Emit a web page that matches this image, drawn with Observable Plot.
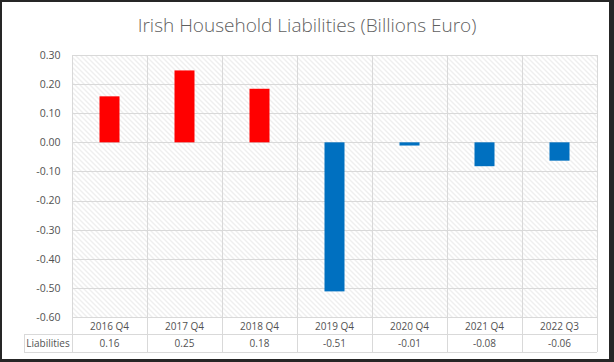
<!DOCTYPE html>
<html><head><meta charset="utf-8">
<script src="https://cdn.jsdelivr.net/npm/d3@7"></script>
<script src="https://cdn.jsdelivr.net/npm/@observablehq/plot@0.6"></script>
<style>
body{margin:0;background:#fff}
#wrap{position:relative;width:614px;height:362px;overflow:hidden;background:#fff}
#frame{position:absolute;left:0;top:0;width:614px;height:362px;box-sizing:border-box;border-style:solid;border-color:#262626;border-width:2px 5px 3px 2px;pointer-events:none}
</style></head><body>
<div id="wrap"><div id="frame"></div></div>
<script>
const title = "Irish Household Liabilities (Billions Euro)";
const seriesName = "Liabilities";
const categories = ["2016 Q4","2017 Q4","2018 Q4","2019 Q4","2020 Q4","2021 Q4","2022 Q3"];
const liabilities = [0.158, 0.247, 0.184, -0.512, -0.011, -0.082, -0.063];
const yTicks = [0.3, 0.2, 0.1, 0, -0.1, -0.2, -0.3, -0.4, -0.5, -0.6];

const W = 614, H = 362;
const FONT = "'Open Sans', sans-serif";
const TEXT = "#525252", GRID = "#d9d9d9";
const fmt = d => Math.abs(d) < 0.005 ? "0.00" : d.toFixed(2);
const data = categories.map((c, i) => ({period: c, value: liabilities[i], color: liabilities[i] >= 0 ? "#FF0000" : "#0070C0"}));

function decorations(index, scales, values, dims) {
  const {x} = scales;
  const left = dims.marginLeft, right = dims.width - dims.marginRight;
  let bw = typeof x.bandwidth === "function" ? x.bandwidth() : x.bandwidth;
  if (!(bw > 0)) bw = (right - left) / categories.length;
  const g = d3.create("svg:g").attr("font-family", FONT);
  const top = dims.marginTop;
  const bottom = dims.height - dims.marginBottom;
  const row1 = bottom + 17.5, row2 = bottom + 35;
  const labelLeft = 24;
  const lines = g.append("g").attr("stroke", GRID).attr("stroke-width", 1).attr("shape-rendering", "crispEdges");
  const edges = categories.map(c => x(c)).concat([x(categories[categories.length - 1]) + bw]);
  edges.forEach(e => lines.append("line").attr("x1", e).attr("x2", e).attr("y1", top).attr("y2", row2));
  lines.append("line").attr("x1", labelLeft).attr("x2", labelLeft).attr("y1", row1).attr("y2", row2);
  lines.append("line").attr("x1", left).attr("x2", right).attr("y1", bottom).attr("y2", bottom);
  lines.append("line").attr("x1", labelLeft).attr("x2", right).attr("y1", row1).attr("y2", row1);
  lines.append("line").attr("x1", labelLeft).attr("x2", right).attr("y1", row2).attr("y2", row2);
  const t = g.append("g").attr("fill", TEXT).attr("font-size", 10).attr("text-anchor", "middle");
  categories.forEach(c => t.append("text").attr("x", x(c) + bw / 2).attr("y", (bottom + row1) / 2 + 0.5).attr("dy", "0.35em").text(c));
  data.forEach(d => t.append("text").attr("x", x(d.period) + bw / 2).attr("y", (row1 + row2) / 2 + 0.5).attr("dy", "0.35em").text(fmt(d.value)));
  t.append("text").attr("x", (labelLeft + left) / 2).attr("y", (row1 + row2) / 2 + 0.5).attr("dy", "0.35em").text(seriesName);
  g.append("text").attr("x", dims.width / 2).attr("y", 32).attr("text-anchor", "middle")
    .attr("fill", "#5f5f5f").attr("font-size", 19).attr("font-weight", 300).text(title);
  return g.node();
}

const chart = Plot.plot({
  width: W, height: H,
  marginLeft: 72, marginRight: 17, marginTop: 55, marginBottom: 45,
  style: {fontFamily: FONT, fontSize: "10.5px", color: TEXT, background: "transparent"},
  x: {type: "band", domain: categories, padding: 0, axis: null},
  y: {domain: [-0.6, 0.3], ticks: yTicks, tickFormat: fmt, tickSize: 0, tickPadding: 12, label: null},
  color: {type: "identity"},
  marks: [
    Plot.frame({fill: "url(#hatch)", stroke: "none"}),
    Plot.ruleY(yTicks, {stroke: GRID, shapeRendering: "crispEdges"}),
    decorations,
    Plot.barY(data, {x: "period", y: "value", fill: "color", insetLeft: 27.5, insetRight: 27.5})
  ]
});
d3.select(chart).insert("defs", ":first-child").html(
  `<pattern id="hatch" patternUnits="userSpaceOnUse" width="5" height="5">
     <rect width="5" height="5" fill="#fff"/>
     <path d="M0,0L5,5M4,-1L6,1M-1,4L1,6" stroke="#dedede" stroke-width="1"/>
   </pattern>`);
document.getElementById("wrap").insertBefore(chart, document.getElementById("frame"));
</script>
</body></html>
